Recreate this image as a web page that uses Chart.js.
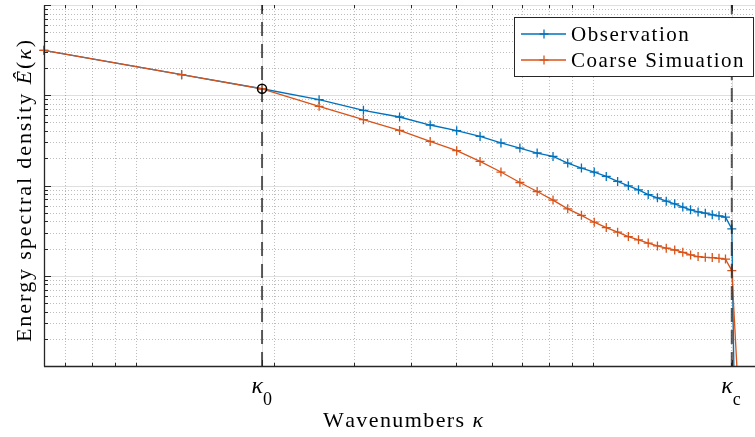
<!DOCTYPE html>
<html lang="en">
<head>
<meta charset="UTF-8">
<title>Energy spectral density</title>
<script src="https://cdn.jsdelivr.net/npm/chart.js"></script>
<style>
  body { margin: 0; background: #fff; }
</style>
</head>
<body>
<canvas id="spectrum" width="755" height="437"></canvas>
<script>
// wavenumbers kappa_n = 2*pi*n/10, n = 1..33
const wavenumbers = [0.628, 1.257, 1.885, 2.513, 3.142, 3.770, 4.398, 5.027, 5.655, 6.283,
                     6.912, 7.540, 8.168, 8.796, 9.425, 10.053, 10.681, 11.310, 11.938, 12.566,
                     13.195, 13.823, 14.451, 15.080, 15.708, 16.336, 16.965, 17.593, 18.221, 18.850,
                     19.478, 20.106, 20.735];
const observation = [0.315, 0.169, 0.118, 0.0894, 0.0680, 0.0574, 0.0468, 0.0405, 0.0350, 0.0296,
                     0.0260, 0.0229, 0.0210, 0.0177, 0.0156, 0.0141, 0.0126, 0.0111, 0.00992, 0.00896,
                     0.00794, 0.00730, 0.00671, 0.00626, 0.00576, 0.00537, 0.00510, 0.00494, 0.00473, 0.00461,
                     0.00446, 0.00330, 1e-7];
const coarseSim = [0.315, 0.169, 0.118, 0.0753, 0.0536, 0.0408, 0.0308, 0.0243, 0.0185, 0.0141,
                   0.0108, 0.00858, 0.00689, 0.00551, 0.00467, 0.00392, 0.00342, 0.00304, 0.00272, 0.00250,
                   0.00230, 0.00214, 0.00202, 0.00193, 0.00182, 0.00170, 0.00163, 0.00160, 0.00159, 0.00156,
                   0.00153, 0.00114, 6e-5];
const kappa0 = 1.885;
const kappaC = 20.106;
const kappaTicks = [kappa0, kappaC];
const kappaSubscripts = ['0', 'c'];

const BLUE = '#0072BD';
const ORANGE = '#D95319';
const INK = '#262626';
const SERIF = '"Liberation Serif", "DejaVu Serif", serif';

const toXY = vals => wavenumbers.map((k, i) => ({ x: k, y: vals[i] }));

// grid, inward ticks, labels, titles and legend drawn the MATLAB way
const matlabAxes = {
    id: 'matlabAxes',
    beforeDatasetsDraw(chart) {
        const ctx = chart.ctx, a = chart.chartArea;
        const xs = chart.scales.x, ys = chart.scales.y;
        ctx.save();
        ctx.lineWidth = 1;
        // minor dotted grid
        ctx.strokeStyle = 'rgba(38,38,38,0.3)';
        ctx.setLineDash([1, 2]);
        minorValues(xs).forEach(v => {
            const px = Math.round(xs.getPixelForValue(v)) + 0.5;
            line(ctx, px, a.top, px, a.bottom);
        });
        minorValues(ys).forEach(v => {
            if (isDecade(v)) return;
            const py = Math.round(ys.getPixelForValue(v)) + 0.5;
            line(ctx, a.left, py, a.right, py);
        });
        // major solid grid
        ctx.setLineDash([]);
        ctx.strokeStyle = 'rgba(38,38,38,0.15)';
        kappaTicks.forEach(v => {
            const px = Math.round(xs.getPixelForValue(v)) + 0.5;
            line(ctx, px, a.top, px, a.bottom);
        });
        minorValues(ys).filter(isDecade).forEach(v => {
            const py = Math.round(ys.getPixelForValue(v)) + 0.5;
            line(ctx, a.left, py, a.right, py);
        });
        ctx.restore();
    },
    afterDatasetsDraw(chart) {
        const ctx = chart.ctx, a = chart.chartArea;
        const xs = chart.scales.x, ys = chart.scales.y;
        ctx.save();
        ctx.strokeStyle = INK;
        ctx.lineWidth = 1;
        // inward ticks
        minorValues(xs).forEach(v => {
            const px = Math.round(xs.getPixelForValue(v)) + 0.5;
            line(ctx, px, a.bottom, px, a.bottom - 3);
            line(ctx, px, a.top, px, a.top + 3);
        });
        kappaTicks.forEach(v => {
            const px = Math.round(xs.getPixelForValue(v)) + 0.5;
            line(ctx, px, a.bottom, px, a.bottom - 6);
            line(ctx, px, a.top, px, a.top + 6);
        });
        minorValues(ys).forEach(v => {
            const py = Math.round(ys.getPixelForValue(v)) + 0.5;
            line(ctx, a.left, py, a.left + (isDecade(v) ? 7 : 4), py);
        });
        // axis lines
        ctx.lineWidth = 1.3;
        line(ctx, a.left + 0.5, a.top, a.left + 0.5, a.bottom + 0.5);
        line(ctx, a.left, a.bottom + 0.5, a.right, a.bottom + 0.5);

        // tick labels kappa_0, kappa_c
        ctx.fillStyle = '#000';
        ctx.textBaseline = 'alphabetic';
        kappaTicks.forEach((v, i) => {
            const px = xs.getPixelForValue(v);
            ctx.font = 'italic 24px ' + SERIF;
            ctx.textAlign = 'right';
            ctx.fillText('κ', px + 1, 393);
            ctx.font = '18px ' + SERIF;
            ctx.textAlign = 'left';
            ctx.fillText(kappaSubscripts[i], px + 1, 405);
        });

        // x title
        drawSpaced(ctx, [['Wavenumbers ', ''], ['κ', 'italic ']], 22, 323, 427, 160);

        // y title (rotated)
        ctx.save();
        ctx.translate(31, 342);
        ctx.rotate(-Math.PI / 2);
        drawSpaced(ctx, [['Energy spectral density ', ''], ['Ê', 'italic '], ['(', ''], ['κ', 'italic '], [')', '']], 22, 0, 0, 302);
        ctx.restore();

        // legend box
        const lx = 514.5, ly = 17.5, lw = 239, lh = 59;
        ctx.fillStyle = '#fff';
        ctx.fillRect(lx, ly, lw, lh);
        ctx.strokeStyle = INK;
        ctx.lineWidth = 1;
        ctx.strokeRect(lx, ly, lw, lh);
        const entries = ['Observation', 'Coarse Simuation'].map(l => chart.data.datasets.find(d => d.label === l));
        const gap = spacingFor(ctx, [['Coarse Simuation', '']], 21, 172.6);
        entries.forEach((d, i) => {
            const cy = 34 + i * 26;
            ctx.strokeStyle = d.borderColor;
            ctx.lineWidth = 1.3;
            line(ctx, 521, cy, 566, cy);
            line(ctx, 539.5, cy, 548.5, cy);
            line(ctx, 544, cy - 4.5, 544, cy + 4.5);
            drawSpaced(ctx, [[d.label, '']], 21, 571, cy + 6.5, null, gap);
        });
        ctx.restore();
    }
};

function line(ctx, x1, y1, x2, y2) {
    ctx.beginPath();
    ctx.moveTo(x1, y1);
    ctx.lineTo(x2, y2);
    ctx.stroke();
}

function isDecade(v) {
    const e = Math.log10(v);
    return Math.abs(e - Math.round(e)) < 1e-9;
}

function minorValues(scale) {
    const out = [];
    for (let e = -5; e <= 2; e++) {
        for (let m = 1; m <= 9; m++) {
            const v = parseFloat((m * Math.pow(10, e)).toPrecision(6));
            if (v >= scale.min * 1.0001 && v <= scale.max * 1.0001) out.push(v);
        }
    }
    return out;
}

// split runs of [text, style] into single characters
function chars(runs) {
    const out = [];
    runs.forEach(r => Array.from(r[0]).forEach(c => out.push([c, r[1]])));
    return out;
}

// extra gap between characters so the text fills the wanted width (LaTeX fonts run wider)
function spacingFor(ctx, runs, size, width) {
    const cs = chars(runs);
    let natural = 0;
    cs.forEach(c => { ctx.font = c[1] + size + 'px ' + SERIF; natural += ctx.measureText(c[0]).width; });
    return Math.max(0, (width - natural) / (cs.length - 1));
}

function drawSpaced(ctx, runs, size, x, y, width, gap) {
    if (gap === undefined) gap = spacingFor(ctx, runs, size, width);
    ctx.fillStyle = '#000';
    ctx.textAlign = 'left';
    ctx.textBaseline = 'alphabetic';
    chars(runs).forEach(c => {
        ctx.font = c[1] + size + 'px ' + SERIF;
        ctx.fillText(c[0], x, y);
        x += ctx.measureText(c[0]).width + gap;
    });
}

const seriesStyle = color => ({
    borderColor: color,
    backgroundColor: color,
    borderWidth: 1.3,
    pointStyle: 'cross',
    pointRadius: 4.5,
    pointBorderWidth: 1.3,
    pointBorderColor: color,
    tension: 0,
    clip: { left: 8, top: 0, right: 0, bottom: 0 }
});

const xlineStyle = {
    borderColor: 'rgba(38,38,38,0.75)',
    borderWidth: 2,
    borderDash: [14, 8],
    pointRadius: 0,
    clip: 0
};

new Chart(document.getElementById('spectrum'), {
    type: 'line',
    data: {
        datasets: [
            {
                label: 'kappa0 marker',
                data: [{ x: kappa0, y: observation[2] }],
                showLine: false,
                pointStyle: 'circle',
                pointRadius: 4.5,
                pointBorderWidth: 1.5,
                pointBorderColor: '#000',
                pointBackgroundColor: 'rgba(0,0,0,0)',
                clip: false
            },
            Object.assign({ label: 'xline kappa0', data: [{ x: kappa0, y: 1e-4 }, { x: kappa0, y: 1 }] }, xlineStyle),
            Object.assign({ label: 'xline kappaC', data: [{ x: kappaC, y: 1e-4 }, { x: kappaC, y: 1 }] }, xlineStyle),
            Object.assign({ label: 'Coarse Simuation', data: toXY(coarseSim) }, seriesStyle(ORANGE)),
            Object.assign({ label: 'Observation', data: toXY(observation) }, seriesStyle(BLUE))
        ]
    },
    options: {
        responsive: false,
        animation: false,
        layout: { autoPadding: false, padding: { left: 44, top: 5, right: 0, bottom: 71 } },
        plugins: {
            legend: { display: false },
            tooltip: { enabled: false }
        },
        scales: {
            x: { type: 'logarithmic', bounds: 'data', min: 0.6283, max: 22.6, display: false },
            y: { type: 'logarithmic', bounds: 'data', min: 1e-4, max: 1, display: false }
        }
    },
    plugins: [matlabAxes]
});
</script>
</body>
</html>
